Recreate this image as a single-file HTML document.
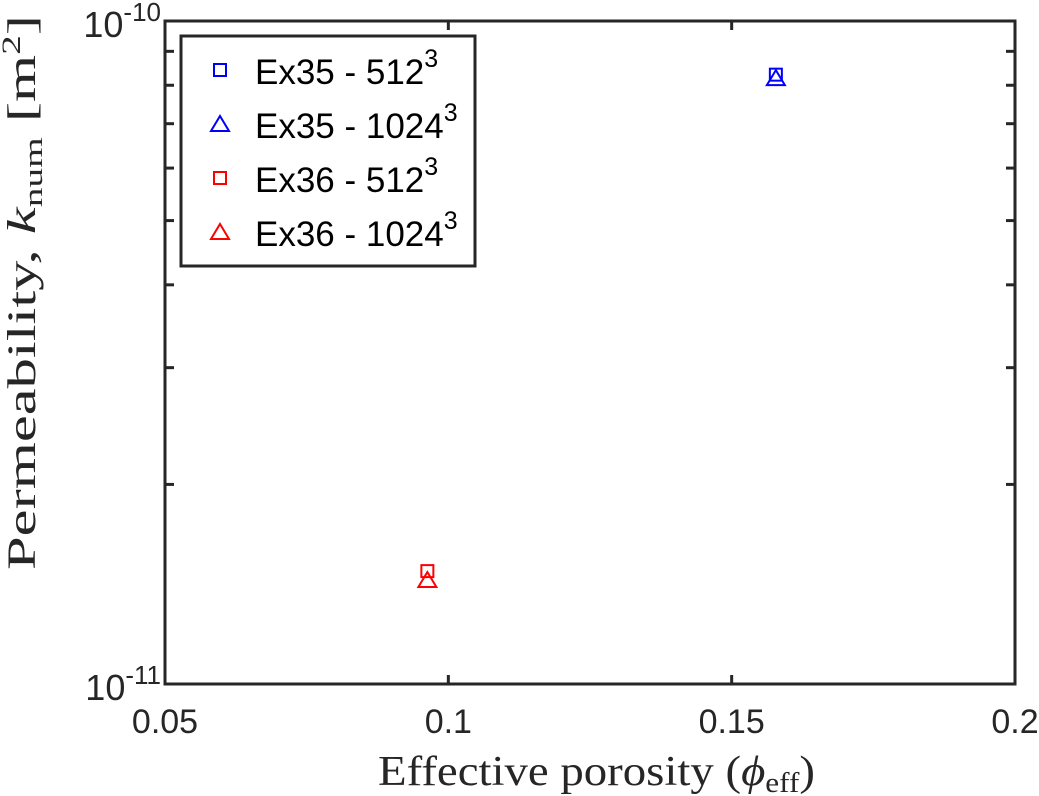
<!DOCTYPE html>
<html><head><meta charset="utf-8"><style>
body{margin:0;background:#fff}
svg{display:block}
.t{font-family:"Liberation Sans",sans-serif;font-size:34px;fill:#262626}
.s{font-family:"Liberation Serif",serif;font-size:42px;fill:#262626}
</style></head><body>
<svg id="c" width="1039" height="796"></svg>
<script>
const xTicks=[0.05,0.1,0.15,0.2];
const xTickLabels=["0.05","0.1","0.15","0.2"];
const seriesNames=["Ex35 - 512","Ex35 - 1024","Ex36 - 512","Ex36 - 1024"];
const seriesColors=["#0000ff","#0000ff","#ff0000","#ff0000"];
const seriesMarkers=["square","triangle","square","triangle"];
const seriesX=[0.1578,0.1578,0.0963,0.0963];
const seriesY=[8.3e-11,8.2e-11,1.48e-11,1.435e-11];
const L=165,R=1015,T=21,B=684;
const xs=v=>L+(v-0.05)/0.15*(R-L);
const ys=v=>B-(Math.log10(v)+11)*(B-T);
const svg=document.getElementById('c');
const NS="http://www.w3.org/2000/svg";
function mk(tag,a,p){const e=document.createElementNS(NS,tag);for(const k in a)e.setAttribute(k,a[k]);(p||svg).appendChild(e);return e;}
let f=mk('rect',{x:L,y:T,width:R-L,height:B-T,fill:'none',stroke:'#262626','stroke-width':3});


xTicks.forEach((v,i)=>{const x=xs(v);
 mk('line',{x1:x,x2:x,y1:B,y2:B-9,stroke:'#262626','stroke-width':3});
 mk('line',{x1:x,x2:x,y1:T,y2:T+9,stroke:'#262626','stroke-width':3});
 const t=mk('text',{x:x,y:B+49,'text-anchor':'middle',class:'t'});t.textContent=xTickLabels[i];
 
 
});
for(let m=2;m<=9;m++){const y=ys(m*1e-11);
 mk('line',{x1:L,x2:L+9,y1:y,y2:y,stroke:'#262626','stroke-width':3});
 mk('line',{x1:R,x2:R-9,y1:y,y2:y,stroke:'#262626','stroke-width':3});}
[[-10,T],[-11,B]].forEach(([e,y])=>{const t=mk('text',{x:L-4,y:y+16,'text-anchor':'end',class:'t'});
 t.style.fontSize='36px';
 t.innerHTML='10<tspan dy="-16" font-size="26">'+e+'</tspan>';
 
 });
function marker(type,x,y,col,sz,p){
 if(type==='square')return mk('rect',{x:x-6,y:y-6,width:12,height:12,fill:'none',stroke:col,'stroke-width':2},p);
 return mk('polygon',{points:`${x},${y-8} ${x+9},${y+7} ${x-9},${y+7}`,fill:'none',stroke:col,'stroke-width':2},p);}
seriesX.forEach((v,i)=>{const m=marker(seriesMarkers[i],xs(v),ys(seriesY[i]),seriesColors[i]);
 
 });
const lg=mk('g',{});


mk('rect',{x:181,y:36,width:294,height:230,fill:'#fff',stroke:'#262626','stroke-width':3},lg);
seriesNames.forEach((n,i)=>{const y=70+i*54;
 marker(seriesMarkers[i],220,y,seriesColors[i],0,lg);
 const t=mk('text',{x:255,y:y+14,class:'t'},lg);
 t.style.fill='#000';t.style.fontSize='35px';
 t.innerHTML=n+'<tspan dy="-17" font-size="25">3</tspan>';
 
 });
const xl=mk('text',{x:378,y:785,class:'s',textLength:437,lengthAdjust:'spacingAndGlyphs'});
xl.innerHTML='Effective porosity (<tspan font-style="italic">ϕ</tspan><tspan font-size="28" dy="7">eff</tspan><tspan dy="-7">)</tspan>';


const yl=mk('text',{x:0,y:0,class:'s',textLength:555,lengthAdjust:'spacingAndGlyphs',transform:'translate(35,570) rotate(-90)'});
yl.style.fontSize='40px';
yl.innerHTML='Permeability, <tspan font-style="italic">k</tspan><tspan font-size="26" dy="7">num</tspan><tspan dy="-7"> [m</tspan><tspan font-size="26" dy="-15">2</tspan><tspan dy="15">]</tspan>';


</script>
</body></html>
